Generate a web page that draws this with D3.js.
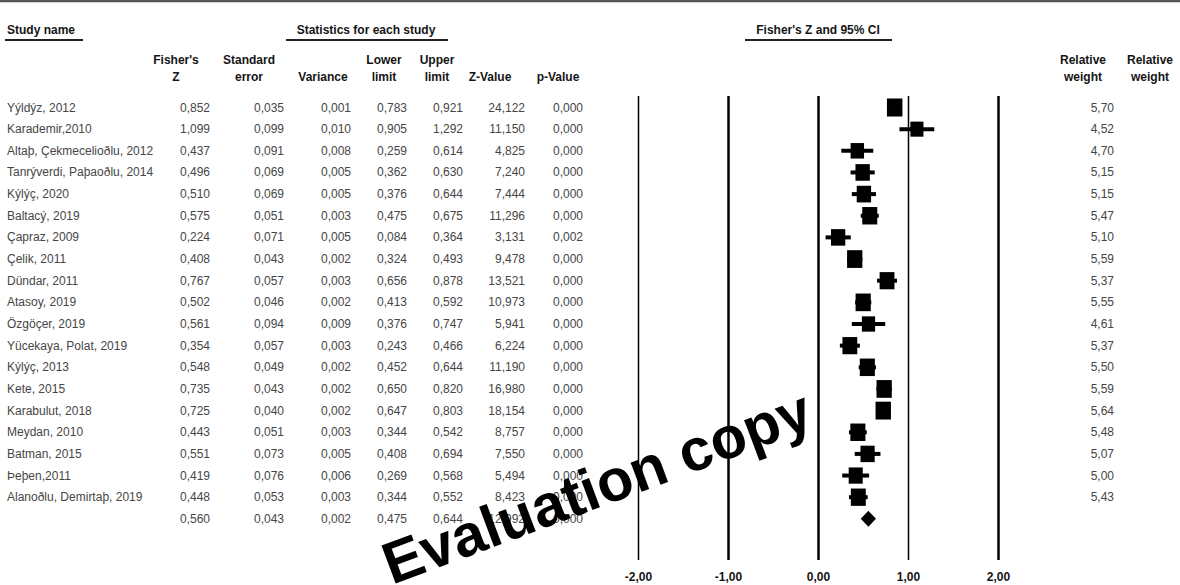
<!DOCTYPE html>
<html>
<head>
<meta charset="utf-8">
<script src="https://cdn.jsdelivr.net/npm/d3@7"></script>
<style>
  body { margin: 0; background: #fff; }
  svg { display: block; font-family: "Liberation Sans", Arial, sans-serif; }
  .hd { font-weight: bold; fill: #151515; font-size: 12px; }
  .cell { fill: #464646; font-size: 12px; }
  .axis text { font-weight: bold; font-size: 12px; fill: #151515; font-family: "Liberation Sans", Arial, sans-serif; }
</style>
</head>
<body>
<div id="chart"></div>
<script>
// forest plot — Fisher's Z per study with 95% CI
const studyNames = [
  "Yýldýz, 2012", "Karademir,2010", "Altaþ, Çekmecelioðlu, 2012", "Tanrýverdi, Paþaoðlu, 2014",
  "Kýlýç, 2020", "Baltacý, 2019", "Çapraz, 2009", "Çelik, 2011", "Dündar, 2011", "Atasoy, 2019",
  "Özgöçer, 2019", "Yücekaya, Polat, 2019", "Kýlýç, 2013", "Kete, 2015", "Karabulut, 2018",
  "Meydan, 2010", "Batman, 2015", "Þeþen,2011", "Alanoðlu, Demirtaþ, 2019"
];
const fisherZ    = [0.852, 1.099, 0.437, 0.496, 0.510, 0.575, 0.224, 0.408, 0.767, 0.502, 0.561, 0.354, 0.548, 0.735, 0.725, 0.443, 0.551, 0.419, 0.448];
const stdErr     = [0.035, 0.099, 0.091, 0.069, 0.069, 0.051, 0.071, 0.043, 0.057, 0.046, 0.094, 0.057, 0.049, 0.043, 0.040, 0.051, 0.073, 0.076, 0.053];
const variance   = [0.001, 0.010, 0.008, 0.005, 0.005, 0.003, 0.005, 0.002, 0.003, 0.002, 0.009, 0.003, 0.002, 0.002, 0.002, 0.003, 0.005, 0.006, 0.003];
const lowerLimit = [0.783, 0.905, 0.259, 0.362, 0.376, 0.475, 0.084, 0.324, 0.656, 0.413, 0.376, 0.243, 0.452, 0.650, 0.647, 0.344, 0.408, 0.269, 0.344];
const upperLimit = [0.921, 1.292, 0.614, 0.630, 0.644, 0.675, 0.364, 0.493, 0.878, 0.592, 0.747, 0.466, 0.644, 0.820, 0.803, 0.542, 0.694, 0.568, 0.552];
const zValue     = [24.122, 11.150, 4.825, 7.240, 7.444, 11.296, 3.131, 9.478, 13.521, 10.973, 5.941, 6.224, 11.190, 16.980, 18.154, 8.757, 7.550, 5.494, 8.423];
const pValue     = [0.000, 0.000, 0.000, 0.000, 0.000, 0.000, 0.002, 0.000, 0.000, 0.000, 0.000, 0.000, 0.000, 0.000, 0.000, 0.000, 0.000, 0.000, 0.000];
const relWeight  = [5.70, 4.52, 4.70, 5.15, 5.15, 5.47, 5.10, 5.59, 5.37, 5.55, 4.61, 5.37, 5.50, 5.59, 5.64, 5.48, 5.07, 5.00, 5.43];

// pooled (summary) row
const summary = { z: 0.560, se: 0.043, v: 0.002, lo: 0.475, hi: 0.644, zv: 12.992, p: 0.000 };

const axisTicks = [-2, -1, 0, 1, 2];
const groupTitles = ["Study name", "Statistics for each study", "Fisher's Z and 95% CI"];

const W = 1180, H = 585;
const svg = d3.select("#chart").append("svg").attr("width", W).attr("height", H);

const comma = f => v => d3.format(f)(v).replace(".", ",");
const f3 = comma(".3f"), f2 = comma(".2f");

// top rule
svg.append("line").attr("x1", 0).attr("x2", W).attr("y1", 1).attr("y2", 1)
  .attr("stroke", "#555").attr("stroke-width", 2.5);

// group titles with underline
const groups = [
  { t: groupTitles[0], x: 7, anchor: "start", u: [5, 83] },
  { t: groupTitles[1], x: 366, anchor: "middle", u: [286, 448] },
  { t: groupTitles[2], x: 818, anchor: "middle", u: [745, 892] }
];
groups.forEach(g => {
  svg.append("text").attr("class", "hd").attr("x", g.x).attr("y", 34)
    .attr("text-anchor", g.anchor).text(g.t);
  svg.append("line").attr("x1", g.u[0]).attr("x2", g.u[1]).attr("y1", 40).attr("y2", 40)
    .attr("stroke", "#222").attr("stroke-width", 2);
});

// table columns
const columns = [
  { h: ["Fisher's", "Z"], hx: 176, vx: 210, vals: fisherZ, s: summary.z, fmt: f3 },
  { h: ["Standard", "error"], hx: 249, vx: 284, vals: stdErr, s: summary.se, fmt: f3 },
  { h: ["", "Variance"], hx: 323, vx: 351, vals: variance, s: summary.v, fmt: f3 },
  { h: ["Lower", "limit"], hx: 384, vx: 407, vals: lowerLimit, s: summary.lo, fmt: f3 },
  { h: ["Upper", "limit"], hx: 437, vx: 463, vals: upperLimit, s: summary.hi, fmt: f3 },
  { h: ["", "Z-Value"], hx: 490, vx: 525, vals: zValue, s: summary.zv, fmt: f3 },
  { h: ["", "p-Value"], hx: 558, vx: 583, vals: pValue, s: summary.p, fmt: f3 },
  { h: ["Relative", "weight"], hx: 1083, vx: 1114, vals: relWeight, s: null, fmt: f2 },
  { h: ["Relative", "weight"], hx: 1150, vx: 1180, vals: null, s: null, fmt: f2 }
];

const rows = studyNames.concat(["__summary"]);
const y = d3.scalePoint().domain(rows).range([107.5, 107.5 + 19 * 21.65]);

columns.forEach(c => {
  c.h.forEach((line, i) => {
    if (!line) return;
    svg.append("text").attr("class", "hd").attr("x", c.hx).attr("y", 64 + i * 17)
      .attr("text-anchor", "middle").text(line);
  });
  if (c.vals) {
    svg.selectAll(null).data(c.vals).join("text")
      .attr("class", "cell").attr("x", c.vx).attr("y", (d, i) => y(studyNames[i]) + 4)
      .attr("text-anchor", "end").text(d => c.fmt(d));
  }
  if (c.s !== null) {
    svg.append("text").attr("class", "cell").attr("x", c.vx).attr("y", y("__summary") + 4)
      .attr("text-anchor", "end").text(c.fmt(c.s));
  }
});

svg.selectAll(null).data(studyNames).join("text")
  .attr("class", "cell").attr("x", 7).attr("y", d => y(d) + 4).text(d => d);

// plot
const x = d3.scaleLinear().domain([-2, 2]).range([638, 998]);
const plotTop = 96, plotBottom = 560;
const lineW = { "-2": 1.5, "-1": 2.5, "0": 2.5, "1": 1.5, "2": 2.5 };

const axis = svg.append("g").attr("class", "axis")
  .attr("transform", `translate(0,${plotBottom})`)
  .call(d3.axisBottom(x).tickValues(axisTicks).tickSize(-(plotBottom - plotTop)).tickPadding(12)
    .tickFormat(f2));
axis.select(".domain").remove();
axis.selectAll(".tick line").attr("stroke", "#000").attr("stroke-width", d => lineW[d]);
axis.selectAll(".tick text").text(d => f2(d).replace("−", "-"));

const boxW = d3.scaleLinear().domain([4.5, 5.7]).range([13, 15.5]);
const boxH = d3.scaleLinear().domain([4.5, 5.7]).range([15, 18]);

const marks = svg.append("g");
marks.selectAll("line.ci").data(studyNames).join("line")
  .attr("class", "ci")
  .attr("x1", (d, i) => x(lowerLimit[i])).attr("x2", (d, i) => x(upperLimit[i]))
  .attr("y1", d => y(d)).attr("y2", d => y(d))
  .attr("stroke", "#000").attr("stroke-width", 4);
marks.selectAll("rect").data(studyNames).join("rect")
  .attr("x", (d, i) => x(fisherZ[i]) - boxW(relWeight[i]) / 2)
  .attr("y", (d, i) => y(d) - boxH(relWeight[i]) / 2)
  .attr("width", (d, i) => boxW(relWeight[i]))
  .attr("height", (d, i) => boxH(relWeight[i]))
  .attr("fill", "#000");

const sy = y("__summary");
marks.append("path")
  .attr("d", `M${x(summary.lo)},${sy} L${x(summary.z)},${sy - 8} L${x(summary.hi)},${sy} L${x(summary.z)},${sy + 8} Z`)
  .attr("fill", "#000");

// watermark
svg.append("text")
  .attr("transform", "translate(392,585) rotate(-20.5)")
  .attr("font-size", 59).attr("font-weight", "bold").attr("fill", "#000")
  .attr("font-family", "'Liberation Sans', Arial, sans-serif")
  .text("Evaluation copy");
</script>
</body>
</html>
